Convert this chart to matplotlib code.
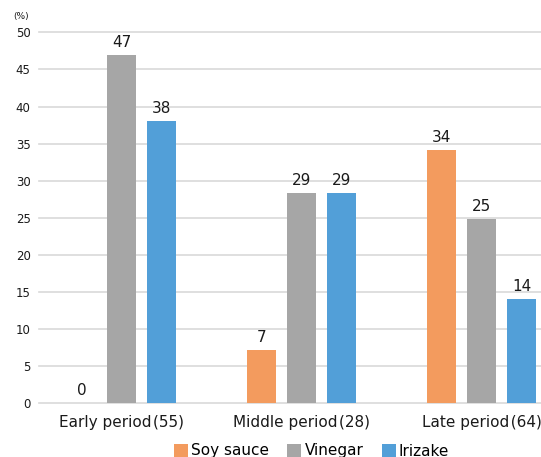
import matplotlib
matplotlib.use("Agg")
import matplotlib.pyplot as plt
import numpy as np
from matplotlib.patches import Patch

plt.rcParams['font.family'] = ['DejaVu Sans']

categories = ["Early period\u200a(55)", "Middle period\u200a(28)", "Late period\u200a(64)"]
series_names = ["Soy sauce", "Vinegar", "Irizake"]
soy_sauce = [0.0, 7.2, 34.2]
vinegar = [47.0, 28.3, 24.9]
irizake = [38.0, 28.3, 14.1]
soy_labels = ["0", "7", "34"]
vinegar_labels = ["47", "29", "25"]
irizake_labels = ["38", "29", "14"]
yticks = [0, 5, 10, 15, 20, 25, 30, 35, 40, 45, 50]
colors = ["#F39B5E", "#A6A6A6", "#529FD8"]

W, H = 541, 457
fig = plt.figure(figsize=(W / 100, H / 100), dpi=100)
ax = fig.add_axes([39 / W, 53.7 / H, (W - 39) / W, (403.3 - 32.3) / H])

x = np.arange(len(categories))
step = 40 / 180
width = 29 / 180
for k, (vals, labs, col) in enumerate(zip([soy_sauce, vinegar, irizake],
                                          [soy_labels, vinegar_labels, irizake_labels], colors)):
    xs = x + (k - 1) * step
    ax.bar(xs, vals, width=width, color=col, zorder=3)
    for xi, v, lab in zip(xs, vals, labs):
        ax.annotate(lab, (xi, v), xytext=(0, 3.5), textcoords="offset points",
                    ha="center", va="bottom", fontsize=11, color="#1a1a1a")

ax.set_xlim(-0.461, 2.328)
ax.set_ylim(0, 50)
ax.set_yticks(yticks)
ax.set_yticklabels([str(t) for t in yticks], fontsize=8.5, color="#1a1a1a")
ax.set_xticks(x)
ax.set_xticklabels(categories, fontsize=11, color="#1a1a1a")
ax.tick_params(axis="both", length=0)
ax.tick_params(axis="y", pad=6)
ax.tick_params(axis="x", pad=8.5)
ax.grid(axis="y", color="#D9D9D9", linewidth=1.2, zorder=0)
for gl in ax.get_ygridlines():
    gl.set_clip_on(False)
for s in ax.spines.values():
    s.set_visible(False)

fig.text(21.5 / W, 1 - 17 / H, "(%)", fontsize=6.5, ha="center", va="center", color="#1a1a1a")

handles = [Patch(facecolor=c, edgecolor="none") for c in colors]
fig.legend(handles, series_names, loc="center", bbox_to_anchor=(311.5 / W, 1 - 451 / H),
           ncol=3, frameon=False, fontsize=11, handlelength=0.92, handleheight=0.92,
           handletextpad=0.2, columnspacing=1.2, borderpad=0)

fig.savefig("out.png", dpi=100, facecolor="white")
